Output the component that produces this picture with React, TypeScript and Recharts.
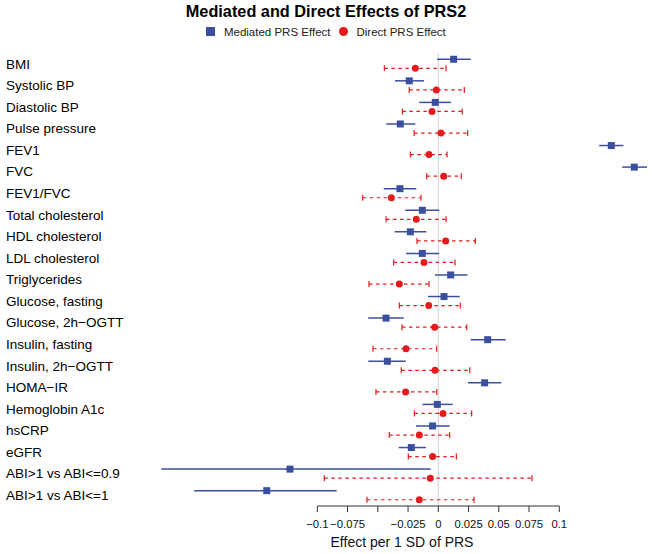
import React from "react";
import { ErrorBar, ReferenceLine, Scatter, ScatterChart, XAxis, YAxis } from "recharts";

const traits = [
  "BMI",
  "Systolic BP",
  "Diastolic BP",
  "Pulse pressure",
  "FEV1",
  "FVC",
  "FEV1/FVC",
  "Total cholesterol",
  "HDL cholesterol",
  "LDL cholesterol",
  "Triglycerides",
  "Glucose, fasting",
  "Glucose, 2h\u2212OGTT",
  "Insulin, fasting",
  "Insulin, 2h\u2212OGTT",
  "HOMA\u2212IR",
  "Hemoglobin A1c",
  "hsCRP",
  "eGFR",
  "ABI>1 vs ABI<=0.9",
  "ABI>1 vs ABI<=1",
];

// mediated effect (blue squares)
const medEst = [0.0127, -0.024, -0.0025, -0.0314, 0.143, 0.162, -0.0317, -0.0132, -0.0231, -0.0132, 0.0102, 0.0047, -0.0432, 0.0408, -0.0421, 0.0383, -0.0008, -0.0047, -0.0223, -0.1226, -0.1418];
const medLo = [-0.001, -0.0358, -0.0157, -0.043, 0.133, 0.152, -0.0451, -0.0273, -0.036, -0.0267, -0.0027, -0.0085, -0.0579, 0.0268, -0.0579, 0.0245, -0.0132, -0.0184, -0.0327, -0.229, -0.2017];
const medHi = [0.0268, -0.0118, 0.0105, -0.019, 0.153, 0.1725, -0.0182, 0.0008, -0.0099, 0.0008, 0.024, 0.0177, -0.0286, 0.0557, -0.027, 0.0521, 0.0119, 0.0094, -0.0102, -0.0063, -0.084];

// direct effect (red dots)
const dirEst = [-0.019, -0.0016, -0.0052, 0.0022, -0.0077, 0.0045, -0.0388, -0.0182, 0.0061, -0.0118, -0.0322, -0.0079, -0.003, -0.0267, -0.0027, -0.027, 0.0039, -0.0157, -0.0047, -0.0066, -0.0157];
const dirLo = [-0.0446, -0.024, -0.0297, -0.02, -0.0231, -0.0096, -0.0625, -0.0432, -0.0176, -0.0369, -0.0573, -0.0322, -0.03, -0.054, -0.0306, -0.0515, -0.0198, -0.0405, -0.0248, -0.0942, -0.059];
const dirHi = [0.0064, 0.0215, 0.0198, 0.0243, 0.0072, 0.019, -0.0143, 0.0064, 0.0306, 0.0138, -0.0077, 0.0182, 0.0235, -0.0013, 0.026, -0.0013, 0.0276, 0.0094, 0.0149, 0.0774, 0.0295];

const xTicks = [-0.1, -0.075, -0.05, -0.025, 0, 0.025, 0.05, 0.075, 0.1];
const rowTicks = traits.map((_, i) => i);

const BLUE = "#3b4fa1";
const RED = "#e41a1c";
const FONT = '"Liberation Sans", Arial, Helvetica, sans-serif';

const mediated = traits.map((t, i) => ({
  trait: t,
  row: i - 0.21,
  est: medEst[i],
  err: [medEst[i] - medLo[i], medHi[i] - medEst[i]],
}));
const direct = traits.map((t, i) => ({
  trait: t,
  row: i + 0.21,
  est: dirEst[i],
  err: [dirEst[i] - dirLo[i], dirHi[i] - dirEst[i]],
}));
const directCaps = traits.flatMap((_, i) => [
  { row: i + 0.21, est: dirLo[i] },
  { row: i + 0.21, est: dirHi[i] },
]);

const fmtTick = (v: number) => (v === -0.05 ? "" : String(v).replace("-", "\u2212"));

const Square = (p: any) => <rect x={p.cx - 3.5} y={p.cy - 3.5} width={7} height={7} fill={BLUE} />;
const Dot = (p: any) => <circle cx={p.cx} cy={p.cy} r={3.5} fill={RED} />;
const Cap = (p: any) => (
  <line x1={p.cx} x2={p.cx} y1={p.cy - 3} y2={p.cy + 3} stroke={RED} strokeWidth={1.2} />
);

const TraitTick = (p: any) => (
  <text x={6} y={p.y} dy="0.35em" textAnchor="start" fontSize={13.5} fill="#000" fontFamily={FONT}>
    {traits[p.payload.value]}
  </text>
);

export default function App() {
  return (
    <div style={{ position: "absolute", left: 0, top: 0, width: 652, height: 554, background: "#fff", fontFamily: FONT }}>
      <div
        style={{
          position: "absolute",
          top: 1,
          left: 0,
          width: 652,
          textAlign: "center",
          fontWeight: "bold",
          fontSize: 16.3,
          lineHeight: "20px",
          color: "#000",
        }}
      >
        Mediated and Direct Effects of PRS2
      </div>
      <div
        style={{
          position: "absolute",
          top: 22,
          left: 0,
          width: 652,
          height: 19,
          display: "flex",
          justifyContent: "center",
          alignItems: "center",
          fontSize: 11.5,
          color: "#222",
        }}
      >
        <span style={{ width: 9, height: 9, background: BLUE, display: "inline-block", marginRight: 8.7 }} />
        <span style={{ marginRight: 8.8 }}>Mediated PRS Effect</span>
        <span style={{ width: 9, height: 9, borderRadius: "50%", background: RED, display: "inline-block", marginRight: 8.2 }} />
        <span>Direct PRS Effect</span>
      </div>
      <ScatterChart width={652} height={554} margin={{ top: 53, right: 2, bottom: 4, left: 0 }}>
        <XAxis
          type="number"
          dataKey="est"
          domain={[-0.235, 0.175]}
          allowDataOverflow
          ticks={xTicks}
          interval={0}
          tickFormatter={fmtTick}
          axisLine={false}
          tickLine={{ stroke: "#333" }}
          tickSize={6}
          tickMargin={8}
          height={44}
          tick={{ fontSize: 11.3, fill: "#111", fontFamily: FONT }}
          label={{ value: "Effect per 1 SD of PRS", position: "insideBottom", offset: 3, fontSize: 14, fill: "#111", fontFamily: FONT }}
        />
        <YAxis
          type="number"
          dataKey="row"
          domain={[-0.5, 20.5]}
          reversed
          ticks={rowTicks}
          interval={0}
          axisLine={false}
          tickLine={false}
          width={154}
          tick={<TraitTick />}
        />
        <ReferenceLine x={0} stroke="#d3d3d3" strokeWidth={1} />
        <ReferenceLine
          segment={[
            { x: -0.1, y: 20.5 },
            { x: 0.1, y: 20.5 },
          ]}
          stroke="#333"
          strokeWidth={1}
          ifOverflow="visible"
        />
        <Scatter data={mediated} shape={<Square />} isAnimationActive={false}>
          <ErrorBar dataKey="err" direction="x" width={0} stroke={BLUE} strokeWidth={1.5} />
        </Scatter>
        <Scatter data={direct} shape={<Dot />} isAnimationActive={false}>
          <ErrorBar dataKey="err" direction="x" width={0} stroke={RED} strokeWidth={1.2} strokeDasharray="3.5 3.5" />
        </Scatter>
        <Scatter data={directCaps} shape={<Cap />} isAnimationActive={false} />
      </ScatterChart>
    </div>
  );
}
